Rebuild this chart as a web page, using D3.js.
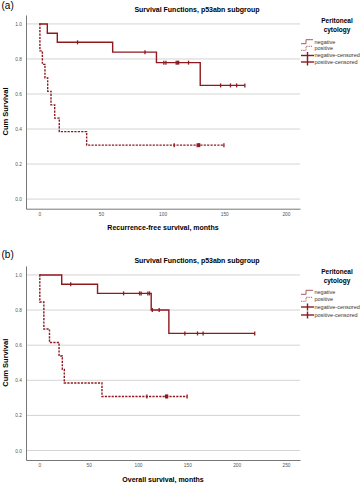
<!DOCTYPE html>
<html><head><meta charset="utf-8">
<script src="https://cdn.jsdelivr.net/npm/d3@7"></script>
<style>
html,body{margin:0;padding:0;background:#fff;}
svg{display:block;font-family:"Liberation Sans",Arial,sans-serif;}
</style></head>
<body><svg id="c" width="364" height="489"></svg>
<script>
// ---- Data ----
const legendLabels = ["negative", "positive", "negative-censored", "positive-censored"];
const chartTitle = "Survival Functions, p53abn subgroup";
const legendTitle = ["Peritoneal", "cytology"];
const yTickValues = [0, 0.2, 0.4, 0.6, 0.8, 1.0];

// Panel (a): recurrence-free survival
const aXTicks = [0, 50, 100, 150, 200];
const aNegTimes = [0, 6.5, 14.6, 59.5, 95, 130.5];
const aNegSurv  = [1, 0.947, 0.895, 0.839, 0.779, 0.649];
const aNegCens  = [31, 85.7, 101, 102.7, 111, 112, 113, 121, 147, 155, 160, 166.7];
const aPosTimes = [0, 0.5, 2.5, 4.6, 6.8, 9.5, 12.5, 16.2, 38.4];
const aPosSurv  = [1, 0.846, 0.769, 0.692, 0.615, 0.538, 0.462, 0.385, 0.308];
const aPosCens  = [109.4, 128, 129, 130, 149.7];

// Panel (b): overall survival
const bXTicks = [0, 50, 100, 150, 200, 250];
const bNegTimes = [0, 22.7, 59, 113.4, 131.3];
const bNegSurv  = [1, 0.947, 0.895, 0.8, 0.667];
const bNegCens  = [31.8, 85.4, 101.6, 103.2, 110, 111.7, 114.5, 121.5, 147.5, 160.3, 166, 218.3];
const bPosTimes = [0, 0.5, 4.6, 10.3, 20, 23.3, 25.3, 63.5];
const bPosSurv  = [1, 0.846, 0.692, 0.615, 0.538, 0.462, 0.385, 0.308];
const bPosCens  = [109, 128, 129, 130, 149.8];

const RED = "#8e1a1f";
const svg = d3.select("#c");

function survAt(times, surv, t){
  let v = surv[0];
  for (let i=0;i<times.length;i++){ if (times[i] <= t) v = surv[i]; }
  return v;
}

function drawPanel(o){
  const g = svg.append("g").attr("transform", `translate(0,${o.dy})`);
  const x = d3.scaleLinear().domain(o.xDomain).range([26, 300]);
  const y = d3.scaleLinear().domain(o.yDomain).range([o.yBottom, o.yTop]);

  g.append("text").attr("x", 1.5).attr("y", o.labelY).attr("font-size", 10).attr("fill", "#000").text(o.label);
  g.append("text").attr("x", 197).attr("y", 11.5).attr("text-anchor", "middle")
    .attr("font-size", 7).attr("font-weight", "bold").attr("fill", "#000").text(chartTitle);

  g.append("g").selectAll("line").data(yTickValues).join("line")
    .attr("x1", 26).attr("x2", 300).attr("y1", d => y(d)).attr("y2", d => y(d))
    .attr("stroke", "#d4d4d4").attr("stroke-width", 1);

  const ya = g.append("g").attr("transform", "translate(26,0)")
    .call(d3.axisLeft(y).tickValues(yTickValues).tickFormat(d3.format(".1f")).tickSize(0).tickPadding(4));
  ya.select(".domain").attr("stroke", "#777").attr("stroke-width", 1);
  ya.selectAll("text").attr("font-size", 4.8).attr("fill", "#555").attr("font-family", "Liberation Sans, Arial, sans-serif");

  const xa = g.append("g").attr("transform", `translate(0,${y(o.yDomain[0])})`)
    .call(d3.axisBottom(x).tickValues(o.xTicks).tickSize(0).tickPadding(4));
  xa.select(".domain").attr("stroke", "#777").attr("stroke-width", 1);
  xa.selectAll("text").attr("font-size", 4.8).attr("fill", "#555").attr("font-family", "Liberation Sans, Arial, sans-serif");

  g.append("text").attr("x", 163).attr("y", o.xTitleY).attr("text-anchor", "middle")
    .attr("font-size", 7).attr("font-weight", "bold").attr("fill", "#000").text(o.xTitle);
  g.append("text").attr("transform", `translate(7.5,${(y(1)+y(0))/2}) rotate(-90)`)
    .attr("text-anchor", "middle").attr("font-size", 7.5).attr("font-weight", "bold").attr("fill", "#000").text("Cum Survival");

  const line = d3.line().x(d => x(d[0])).y(d => y(d[1])).curve(d3.curveStepAfter);
  function series(times, surv, cens, dashed){
    const end = Math.max(d3.max(times), d3.max(cens));
    const pts = times.map((t,i) => [t, surv[i]]);
    pts.push([end, surv[surv.length-1]]);
    g.append("path").attr("d", line(pts)).attr("fill", "none").attr("stroke", RED)
      .attr("stroke-width", 1.4).attr("stroke-dasharray", dashed ? "2.2,1.2" : null);
    g.append("g").selectAll("line").data(cens).join("line")
      .attr("x1", d => x(d)).attr("x2", d => x(d))
      .attr("y1", d => y(survAt(times, surv, d)) - 2).attr("y2", d => y(survAt(times, surv, d)) + 2)
      .attr("stroke", RED).attr("stroke-width", 1.3);
  }
  series(o.negT, o.negS, o.negC, false);
  series(o.posT, o.posS, o.posC, true);

  const lg = g.append("g");
  lg.selectAll("text.t").data(legendTitle).join("text")
    .attr("x", 337).attr("y", (d,i) => o.legTitleY + i*8.5).attr("text-anchor", "middle")
    .attr("font-size", 6.5).attr("font-weight", "bold").attr("fill", "#000").text(d => d);
  legendLabels.forEach((lab, i) => {
    const cy = o.legY[i];
    if (i < 2) {
      lg.append("path").attr("d", `M301,${cy+2}H306V${cy-2}H313`).attr("fill", "none")
        .attr("stroke", "#a0474b").attr("stroke-width", 0.9).attr("stroke-dasharray", i === 1 ? "1.3,1" : null);
    } else {
      lg.append("line").attr("x1", 301).attr("x2", 314).attr("y1", cy).attr("y2", cy).attr("stroke", RED).attr("stroke-width", 1.4);
      lg.append("line").attr("x1", 307.5).attr("x2", 307.5).attr("y1", cy-3.5).attr("y2", cy+3.5).attr("stroke", RED).attr("stroke-width", 1.4);
    }
    lg.append("text").attr("x", 314.5).attr("y", cy + 1.9).attr("font-size", 5.5).attr("fill", "#333").text(lab);
  });
}

drawPanel({
  dy: 0, label: "(a)", labelY: 9,
  xDomain: [-10.78, 211.4], xTicks: aXTicks,
  yDomain: [-0.055, 1.051], yBottom: 208.7, yTop: 15,
  xTitle: "Recurrence-free survival, months", xTitleY: 230,
  negT: aNegTimes, negS: aNegSurv, negC: aNegCens,
  posT: aPosTimes, posS: aPosSurv, posC: aPosCens,
  legTitleY: 23, legY: [41.7, 48.3, 55.5, 62]
});
drawPanel({
  dy: 251, label: "(b)", labelY: 7,
  xDomain: [-13.5, 264.2], xTicks: bXTicks,
  yDomain: [-0.054, 1.051], yBottom: 209, yTop: 15,
  xTitle: "Overall survival, months", xTitleY: 230.5,
  negT: bNegTimes, negS: bNegSurv, negC: bNegCens,
  posT: bPosTimes, posS: bPosSurv, posC: bPosCens,
  legTitleY: 23, legY: [41.3, 48.3, 56, 64]
});
</script></body></html>
